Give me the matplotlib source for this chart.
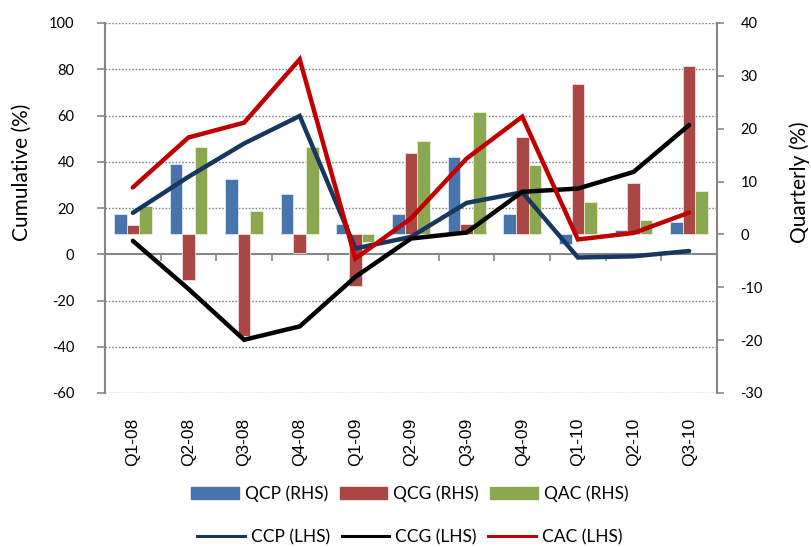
import matplotlib
matplotlib.use("Agg")
import matplotlib.pyplot as plt
import numpy as np
from matplotlib.patches import Patch
from matplotlib.lines import Line2D

plt.rcParams["axes.unicode_minus"] = False

# Data
quarters = ["Q1-08", "Q2-08", "Q3-08", "Q4-08", "Q1-09", "Q2-09",
            "Q3-09", "Q4-09", "Q1-10", "Q2-10", "Q3-10"]

# quarterly changes, right-hand scale (bars)
qcp = [3.9, 13.3, 10.4, 7.7, 2.0, 3.9, 14.7, 3.9, -1.8, 0.8, 2.3]
qcg = [1.8, -8.6, -19.3, -3.6, -9.7, 15.5, 2.0, 18.4, 28.4, 9.8, 31.8]
qac = [5.4, 16.6, 4.4, 16.6, -1.5, 17.7, 23.1, 13.1, 6.1, 2.7, 8.2]

# cumulative changes, left-hand scale (lines)
ccp = [17.9, 33.5, 47.9, 59.8, 2.5, 7.5, 22.2, 26.8, -1.4, -0.9, 1.4]
ccg = [5.8, -15.0, -37.0, -31.2, -9.8, 6.8, 9.4, 27.0, 28.4, 35.6, 55.9]
cac = [28.9, 50.5, 56.9, 84.3, -1.9, 15.5, 41.4, 59.5, 6.4, 9.2, 18.0]

left_ticks = [-60, -40, -20, 0, 20, 40, 60, 80, 100]
right_ticks = [-30, -20, -10, 0, 10, 20, 30, 40]

BLUE = "#4674AB"
RED = "#AA4644"
GREEN = "#8BA74F"
NAVY = "#17375E"
LINE_RED = "#C00000"
GRAY = "#868686"
TXT = "Lato"

fig = plt.figure(figsize=(8.12, 5.47), dpi=100)
pos = [105 / 812, 1 - 393 / 547, 612 / 812, 370 / 547]

# bottom layer: left scale, grid and axes
ax = fig.add_axes(pos)
ax.set_ylim(-60, 100)
ax.set_xlim(-0.5, len(quarters) - 0.5)
ax.set_yticks(left_ticks)
for v in left_ticks:
    if v != 0:
        ax.axhline(v, color=GRAY, lw=1.0, ls=(0, (1.2, 1.2)), zorder=0)
ax.axhline(0, color=GRAY, lw=1.5, zorder=1)
for s in ["top", "right", "bottom"]:
    ax.spines[s].set_visible(False)
ax.spines["left"].set_color(GRAY)
ax.spines["left"].set_linewidth(1.5)
ax.tick_params(axis="y", direction="out", length=6, width=1.2, color=GRAY,
               pad=16, labelsize=10.5)
x = np.arange(len(quarters))
ax.set_xticks(x)
ax.set_xticklabels(quarters, rotation=90, fontsize=12.5, family="Liberation Sans",
                   va="top", ha="center")
ax.tick_params(axis="x", length=0, pad=18)
for lab in ax.get_yticklabels():
    lab.set_family(TXT)

# category boundary ticks on the zero line
sec = ax.secondary_xaxis(60 / 160)
sec.set_xticks(np.arange(len(quarters) + 1) - 0.5)
sec.set_xticklabels([])
sec.tick_params(direction="out", length=5, width=1.2, color=GRAY)
sec.spines["bottom"].set_visible(False)

# middle layer: bars on the right scale
axb = ax.twinx()
axb.set_ylim(-30, 40)
axb.set_yticks(right_ticks)
w = 0.227
axb.bar(x - w, qcp, w, color=BLUE, edgecolor="#dde6f0", lw=0.6)
axb.bar(x, qcg, w, color=RED, edgecolor="#f0dede", lw=0.6)
axb.bar(x + w, qac, w, color=GREEN, edgecolor="#e6eedd", lw=0.6)
for s in ["top", "left", "bottom"]:
    axb.spines[s].set_visible(False)
axb.spines["right"].set_color(GRAY)
axb.spines["right"].set_linewidth(1.5)
axb.tick_params(axis="y", direction="out", length=5, width=1.2, color=GRAY,
                pad=12, labelsize=10.5)
for lab in axb.get_yticklabels():
    lab.set_family(TXT)

# top layer: cumulative lines on the left scale
axl = ax.twinx()
axl.set_ylim(-60, 100)
axl.axis("off")
axl.plot(x, ccp, color=NAVY, lw=3.2, solid_capstyle="round", solid_joinstyle="miter")
axl.plot(x, ccg, color="black", lw=3.2, solid_capstyle="round", solid_joinstyle="miter")
axl.plot(x, cac, color=LINE_RED, lw=3.2, solid_capstyle="round", solid_joinstyle="miter")

ax.set_zorder(1)
axb.set_zorder(2)
axl.set_zorder(3)

fig.text(22 / 812, 1 - 172 / 547, "Cumulative (%)", rotation=90, ha="center",
         va="center", fontsize=15, family=TXT)
fig.text(800 / 812, 1 - 182 / 547, "Quarterly (%)", rotation=90, ha="center",
         va="center", fontsize=15, family=TXT)

leg_kw = dict(ncol=3, frameon=False, handlelength=2.75,
              handletextpad=0.35, columnspacing=0.65, borderpad=0,
              prop={"family": TXT, "size": 12.5})
h1 = [Patch(color=BLUE), Patch(color=RED), Patch(color=GREEN)]
fig.legend(h1, ["QCP (RHS)", "QCG (RHS)", "QAC (RHS)"], loc="center",
           bbox_to_anchor=(410 / 812, 1 - 494 / 547), **leg_kw)
h2 = [Line2D([], [], color=NAVY, lw=2.2), Line2D([], [], color="black", lw=2.2),
      Line2D([], [], color=LINE_RED, lw=2.2)]
fig.legend(h2, ["CCP (LHS)", "CCG (LHS)", "CAC (LHS)"], loc="center",
           bbox_to_anchor=(410 / 812, 1 - 537 / 547), **leg_kw)

fig.savefig("out.png", dpi=100)
